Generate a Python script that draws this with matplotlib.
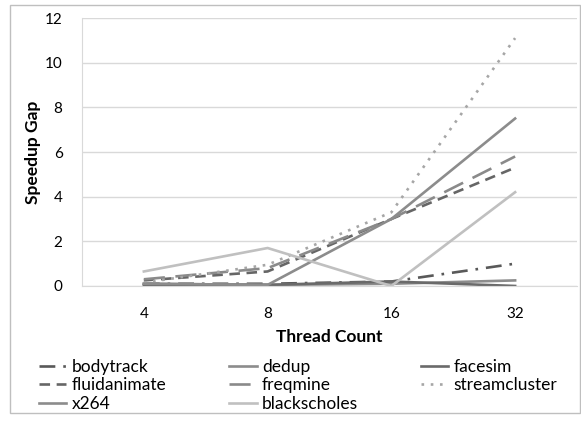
import matplotlib.pyplot as plt
from matplotlib.patches import Rectangle

plt.rcParams['font.family'] = ['Lato', 'DejaVu Sans']

threads = ['4', '8', '16', '32']

bodytrack = [0.1, 0.1, 0.2, 1.0]
dedup = [0.1, 0.05, 0.1, 0.25]
facesim = [0.05, 0.05, 0.2, 0.0]
fluidanimate = [0.25, 0.65, 3.0, 5.3]
freqmine = [0.3, 0.8, 3.0, 5.8]
streamcluster = [0.15, 0.95, 3.3, 11.1]
x264 = [0.1, 0.05, 3.0, 7.5]
blackscholes = [0.65, 1.7, 0.0, 4.2]

fig = plt.figure(figsize=(5.81, 4.25), dpi=100)
ax = fig.add_axes([0.1411, 0.3271, 0.852, 0.6305])

# outer chart frame
fig.patches.append(Rectangle((10 / 581, 12 / 425), 570 / 581, 408 / 425,
                             transform=fig.transFigure, fill=False,
                             edgecolor='#bfbfbf', linewidth=1))

xs = range(len(threads))
lw = 1.9
styles = {
    'bodytrack': (bodytrack, '#595959', (0, (6, 3, 1, 3))),
    'dedup': (dedup, '#8c8c8c', '-'),
    'facesim': (facesim, '#6a6a6a', '-'),
    'fluidanimate': (fluidanimate, '#666666', (0, (4, 2.5))),
    'freqmine': (freqmine, '#8a8a8a', (0, (8, 4))),
    'streamcluster': (streamcluster, '#a6a6a6', (0, (1, 2.5))),
    'x264': (x264, '#8c8c8c', '-'),
    'blackscholes': (blackscholes, '#c0c0c0', '-'),
}
lines = {}
for name, (vals, col, ls) in styles.items():
    lines[name], = ax.plot(xs, vals, color=col, linestyle=ls, linewidth=lw,
                           label=name)

ax.set_xlim(-0.5, 3.5)
ax.set_ylim(0, 12)
ax.set_yticks(range(0, 13, 2))
ax.set_xticks(list(xs))
ax.set_xticklabels(threads)
ax.tick_params(length=0, labelsize=11, colors='#000000')
ax.tick_params(axis='x', pad=15)
ax.tick_params(axis='y', pad=14)
ax.grid(axis='y', color='#d9d9d9', linewidth=1)
ax.set_axisbelow(True)
for s in ['top', 'right']:
    ax.spines[s].set_visible(False)
for s in ['left', 'bottom']:
    ax.spines[s].set_color('#d9d9d9')

ax.set_xlabel('Thread Count', fontsize=12.5, fontweight='bold', labelpad=6)
ax.set_ylabel('Speedup Gap', fontsize=12.5, fontweight='bold', labelpad=3)

order = ['bodytrack', 'fluidanimate', 'x264', 'dedup', 'freqmine',
         'blackscholes', 'facesim', 'streamcluster']
fig.legend([lines[n] for n in order], order, ncol=3,
           loc='upper left', bbox_to_anchor=(30 / 581, 1 - 350 / 425),
           frameon=False, fontsize=12.5, handlelength=1.6, handletextpad=0.3,
           columnspacing=3.6, labelspacing=0.15, borderpad=0)

fig.savefig('out.png', dpi=100)
